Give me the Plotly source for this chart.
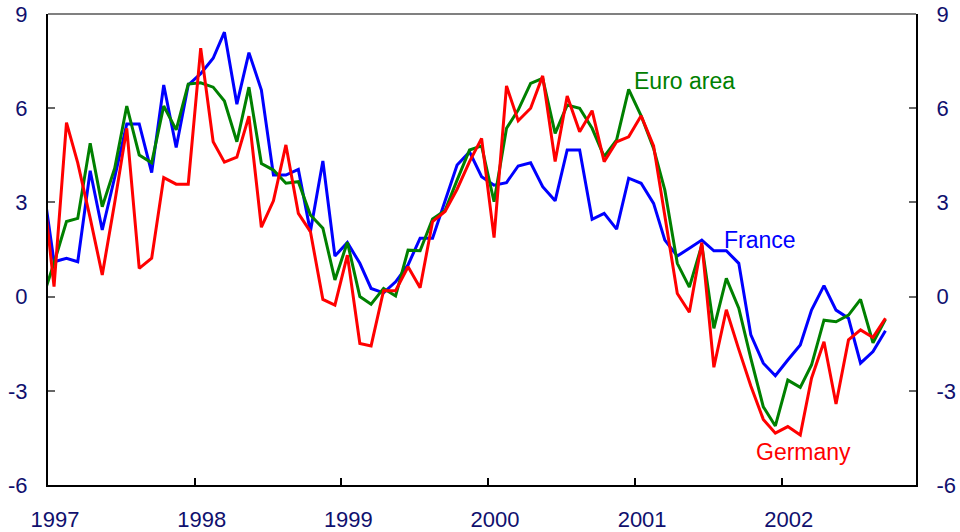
import pandas as pd
import plotly.graph_objects as go

# Monthly observations, Dec 1996 .. Sep 2002 (first point lies just left of the axis)
start_month = "1996-12-01"
n_months = 70

france = [3.9, 1.11, 1.22, 1.11, 4.01, 2.12, 3.8, 5.50, 5.50, 3.95, 6.74, 4.75, 6.74,
          7.10, 7.59, 8.42, 6.13, 7.77, 6.58, 3.87, 3.87, 4.05, 2.07, 4.32, 1.29,
          1.72, 1.06, 0.26, 0.12, 0.47, 1.01, 1.86, 1.86, 3.02, 4.19, 4.61, 3.82,
          3.55, 3.63, 4.16, 4.26, 3.50, 3.05, 4.67, 4.67, 2.46, 2.65, 2.15, 3.77,
          3.61, 2.97, 1.80, 1.29, 1.54, 1.80, 1.46, 1.46, 1.06, -1.22, -2.12, -2.52,
          -2.02, -1.54, -0.43, 0.35, -0.43, -0.69, -2.12, -1.75, -1.09]

euro_area = [-0.16, 1.07, 2.39, 2.49, 4.88, 2.86, 4.09, 6.07, 4.51, 4.26, 6.07, 5.31, 6.77,
             6.81, 6.67, 6.23, 4.93, 6.67, 4.24, 4.03, 3.61, 3.66, 2.60, 2.18, 0.53,
             1.73, 0.0, -0.24, 0.26, 0.02, 1.48, 1.46, 2.47, 2.74, 3.71, 4.67, 4.80,
             3.02, 5.36, 5.94, 6.79, 6.95, 5.20, 6.10, 6.00, 5.36, 4.46, 4.99, 6.60,
             5.76, 4.72, 3.39, 1.06, 0.30, 1.64, -1.01, 0.58, -0.37, -1.97, -3.51, -4.12,
             -2.66, -2.89, -2.18, -0.75, -0.80, -0.59, -0.09, -1.47, -0.72]

germany = [3.96, 0.32, 5.54, 4.26, 2.5, 0.69, 3.0, 5.36, 0.90, 1.22, 3.79, 3.58, 3.58,
           7.91, 4.93, 4.28, 4.44, 5.75, 2.21, 3.05, 4.83, 2.65, 2.07, -0.09, -0.27,
           1.32, -1.49, -1.57, 0.19, 0.19, 0.95, 0.28, 2.39, 2.71, 3.42, 4.30, 5.04,
           1.88, 6.71, 5.60, 6.00, 7.03, 4.30, 6.39, 5.25, 5.92, 4.30, 4.93, 5.09,
           5.76, 4.80, 2.6, 0.10, -0.50, 1.72, -2.25, -0.42, -1.68, -2.85, -3.91, -4.35,
           -4.14, -4.41, -2.60, -1.44, -3.42, -1.38, -1.06, -1.30, -0.69]

year_ticks = ["1997-01-01", "1998-01-01", "1999-01-01", "2000-01-01", "2001-01-01", "2002-01-01"]
year_labels = ["1997", "1998", "1999", "2000", "2001", "2002"]
y_ticks = [-6, -3, 0, 3, 6, 9]
y_labels = ["-6", "-3", "0", "3", "6", "9"]

dates = pd.date_range(start_month, periods=n_months, freq="MS") + pd.Timedelta(days=15)

FONT = "Liberation Sans, Arial, sans-serif"
NAVY = "#10106e"

fig = go.Figure()
for name, vals, col in [("France", france, "#0000ff"),
                        ("Euro area", euro_area, "#008000"),
                        ("Germany", germany, "#ff0000")]:
    fig.add_trace(go.Scatter(x=dates, y=vals, mode="lines", name=name,
                             line=dict(color=col, width=3), showlegend=False))

fig.add_trace(go.Scatter(x=[dates[10]], y=[None], yaxis="y2", showlegend=False,
                         hoverinfo="skip"))

fig.update_layout(
    width=960, height=532,
    margin=dict(l=48, r=44, t=14, b=47, autoexpand=False),
    plot_bgcolor="white", paper_bgcolor="white",
    font=dict(family=FONT, color=NAVY),
    xaxis=dict(
        type="date", range=["1997-01-01", "2002-12-01"],
        tickvals=year_ticks, ticktext=year_labels,
        ticks="inside", ticklen=7, tickwidth=1.5, tickcolor="black",
        showline=True, linecolor="black", linewidth=2,
        showgrid=False, zeroline=False, automargin=False,
        tickfont=dict(size=22, color=NAVY),
        ticklabelstandoff=14, ticklabelshift=7,
    ),
    yaxis=dict(
        range=[-6, 9], tickvals=y_ticks, ticktext=y_labels,
        ticks="inside", ticklen=7, tickwidth=1.5, tickcolor="#666666",
        showline=True, linecolor="black", linewidth=2,
        showgrid=False, zeroline=False, automargin=False,
        tickfont=dict(size=22, color=NAVY),
        ticklabelstandoff=14,
    ),
    yaxis2=dict(
        range=[-6, 9], tickvals=y_ticks, ticktext=y_labels,
        overlaying="y", side="right",
        ticks="inside", ticklen=7, tickwidth=1.5, tickcolor="#666666",
        showline=True, linecolor="black", linewidth=2,
        showgrid=False, zeroline=False, automargin=False,
        tickfont=dict(size=22, color=NAVY),
        ticklabelstandoff=14,
    ),
    shapes=[dict(type="line", xref="paper", yref="paper", x0=0, x1=1, y0=1, y1=1,
                 line=dict(color="#808080", width=2))],
    annotations=[
        dict(x="2000-12-25", y=6.87, text="Euro area", showarrow=False,
             xanchor="left", yanchor="middle", font=dict(size=23, color="#008000")),
        dict(x="2001-08-05", y=1.80, text="France", showarrow=False,
             xanchor="left", yanchor="middle", font=dict(size=23, color="#0000ff")),
        dict(x="2001-10-23", y=-4.95, text="Germany", showarrow=False,
             xanchor="left", yanchor="middle", font=dict(size=23, color="#ff0000")),
    ],
)

fig.write_html("out.html", config={"displayModeBar": False},
               post_script="document.body.style.margin='0';document.body.style.overflow='hidden';")
